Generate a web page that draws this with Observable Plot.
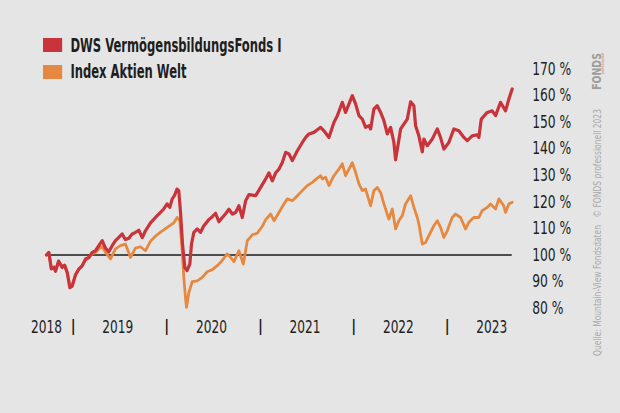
<!DOCTYPE html>
<html><head><meta charset="utf-8">
<script src="https://cdn.jsdelivr.net/npm/d3@7"></script>
<script src="https://cdn.jsdelivr.net/npm/@observablehq/plot@0.6"></script>
<style>
html,body{margin:0;padding:0;background:#e5e5e5;}
#chart{position:relative;width:620px;height:413px;overflow:hidden;background:#e5e5e5;}
#legend{position:absolute;left:43px;top:32px;transform:scaleX(0.66);transform-origin:0 0;}
.lg-swatch{height:26.5px;padding-bottom:0 !important;}
.lg-swatch > svg{margin-right:12.5px !important;}
.lg-swatch-label{overflow:visible !important;}
#caption{position:absolute;left:590px;top:356px;transform-origin:0 0;transform:rotate(-90deg) scaleX(0.8);white-space:nowrap;
  font-family:"DejaVu Sans Condensed","DejaVu Sans",sans-serif;font-size:10.5px;color:#a8a8a8;line-height:1;}
#caption b{position:relative;color:#9c9c9c;font-size:13px;margin-left:24px;}
#caption i{position:absolute;right:0;top:12px;font-style:normal;font-size:4px;color:#e0a27a;}
</style></head><body><div id="chart"></div>
<script>
const FONT = '"DejaVu Sans Condensed","DejaVu Sans",sans-serif';
const seriesNames = ["DWS VermögensbildungsFonds I", "Index Aktien Welt"];
const seriesColors = ["#c9333a", "#e6883f"];

// decimal years and values (%)
const dwsYear = [2018.714,2018.739,2018.765,2018.793,2018.811,2018.843,2018.882,2018.907,2018.936,2018.964,2018.989,2019.025,2019.060,2019.096,2019.132,2019.167,2019.203,2019.239,2019.274,2019.310,2019.345,2019.381,2019.417,2019.452,2019.488,2019.524,2019.559,2019.595,2019.631,2019.666,2019.702,2019.738,2019.773,2019.827,2019.880,2019.934,2019.969,2020.005,2020.033,2020.059,2020.083,2020.110,2020.129,2020.148,2020.169,2020.194,2020.217,2020.247,2020.265,2020.290,2020.326,2020.361,2020.397,2020.450,2020.487,2020.522,2020.557,2020.594,2020.629,2020.664,2020.701,2020.736,2020.771,2020.807,2020.843,2020.878,2020.914,2020.950,2021.003,2021.057,2021.092,2021.128,2021.164,2021.199,2021.235,2021.271,2021.306,2021.342,2021.396,2021.449,2021.485,2021.520,2021.573,2021.610,2021.645,2021.680,2021.734,2021.787,2021.824,2021.877,2021.912,2021.948,2021.984,2022.019,2022.055,2022.091,2022.126,2022.162,2022.180,2022.215,2022.251,2022.287,2022.322,2022.358,2022.394,2022.429,2022.447,2022.472,2022.501,2022.536,2022.572,2022.608,2022.643,2022.661,2022.696,2022.733,2022.750,2022.786,2022.840,2022.893,2022.928,2022.964,2023.017,2023.071,2023.124,2023.178,2023.214,2023.267,2023.321,2023.338,2023.364,2023.428,2023.481,2023.517,2023.570,2023.624,2023.659,2023.695];
const dwsValue = [100,101.0,94.8,95.3,93.9,97.7,95.3,96.2,93.3,87.7,88.3,92.6,94.7,96.0,98.5,99.1,101.0,101.6,103.5,105.4,102.6,101.2,103.5,105.4,106.6,107.9,105.8,106.3,107.9,108.5,109.3,106.5,109.1,112.1,114.1,116.0,117.3,119.2,117.9,121.1,122.3,124.8,124.2,115.9,104.2,95.3,94.1,96.6,104.1,108.5,109.8,108.5,111.0,113.3,114.4,115.7,112.5,114.1,115.5,117.2,115.4,116.0,118.5,114.1,120.4,122.7,122.5,122.3,125.4,128.6,130.9,127.9,130.9,132.3,134.8,138.6,138.0,135.5,139.2,142.3,144.2,145.5,146.1,147.1,148.0,146.7,144.2,149.8,152.4,157.4,153.6,156.8,159.9,156.8,152.4,151.1,148.0,148.6,147.4,154.9,156.1,153.6,150.5,145.5,148.0,142.3,135.8,141.1,147.4,149.2,151.1,157.6,156.1,148.6,144.8,138.8,143.6,141.1,143.6,147.4,144.2,139.8,142.3,147.4,146.7,144.2,143.0,144.8,145.2,144.2,151.1,153.6,154.2,152.4,157.4,154.2,158.6,162.4];

const idxYear = [2018.714,2018.739,2018.765,2018.793,2018.811,2018.843,2018.882,2018.907,2018.936,2018.964,2018.989,2019.025,2019.060,2019.096,2019.132,2019.167,2019.203,2019.239,2019.274,2019.310,2019.345,2019.399,2019.452,2019.506,2019.559,2019.613,2019.666,2019.720,2019.773,2019.827,2019.880,2019.934,2019.987,2020.041,2020.076,2020.112,2020.140,2020.166,2020.183,2020.201,2020.212,2020.236,2020.273,2020.326,2020.380,2020.433,2020.487,2020.540,2020.575,2020.647,2020.682,2020.718,2020.771,2020.818,2020.861,2020.914,2020.968,2021.021,2021.057,2021.110,2021.146,2021.199,2021.252,2021.289,2021.342,2021.396,2021.449,2021.503,2021.556,2021.610,2021.645,2021.663,2021.698,2021.734,2021.787,2021.841,2021.877,2021.912,2021.948,2021.984,2022.019,2022.055,2022.091,2022.126,2022.180,2022.215,2022.251,2022.287,2022.322,2022.375,2022.412,2022.447,2022.482,2022.519,2022.554,2022.608,2022.643,2022.679,2022.696,2022.733,2022.768,2022.803,2022.857,2022.893,2022.928,2022.964,2023.000,2023.053,2023.089,2023.142,2023.196,2023.231,2023.284,2023.338,2023.374,2023.428,2023.463,2023.517,2023.552,2023.605,2023.624,2023.659,2023.695];
const idxValue = [100,100.9,95.2,95.6,94.3,97.7,95.6,96.2,93.7,88.3,88.6,92.8,94.7,95.8,98.2,98.8,100.5,100.9,102.3,103.1,101.0,98.5,102.3,103.5,104.1,99.1,102.6,103.1,101.6,105.2,107.1,108.6,109.9,111.2,112.1,114.1,112.9,101.6,91.6,83.9,80.3,85.8,90.0,90.3,91.6,93.7,94.5,96.0,97.2,100.4,99.1,97.5,101.6,96.6,105.4,107.6,108.2,110.8,113.3,115.4,112.9,116.0,119.2,121.1,120.4,122.3,124.2,126.1,127.3,128.9,129.8,128.6,129.2,126.1,129.8,132.3,134.3,129.8,132.3,134.7,131.1,126.7,124.2,124.8,118.5,124.2,125.4,123.5,119.2,113.5,117.3,109.8,112.9,114.8,119.2,122.3,117.9,114.1,111.7,104.1,104.7,107.3,111.0,112.9,110.4,106.6,109.1,114.1,115.4,114.1,109.8,112.3,114.1,114.1,116.7,117.9,119.2,117.3,121.1,118.5,116.0,119.2,119.8];

const yTicks = [80,90,100,110,120,130,140,150,160,170];
const yearLabels = [2018,2019,2020,2021,2022,2023];
const yearSeparators = [2019,2020,2021,2022,2023];
const baseline = 100;
const caption = "Quelle: Mountain-View Fondsdaten\u2003\u00A9 FONDS professionell 2023";
const logoText = "FONDS";
const logoSub = "professionell";

function toDate(y){
  const yr = Math.floor(y);
  const a = Date.UTC(yr,0,1), b = Date.UTC(yr+1,0,1);
  return new Date(a + (y-yr)*(b-a));
}
const dws = dwsYear.map((y,i)=>({date:toDate(y), value:dwsValue[i]}));
const idx = idxYear.map((y,i)=>({date:toDate(y), value:idxValue[i]}));
const start = dws[0].date, end = dws[dws.length-1].date;
const labelDates = yearLabels.map((y,i)=> i===0 ? start : new Date(Date.UTC(y,5,24)));
const sepDates = yearSeparators.map(y=>new Date(Date.UTC(y,0,1)));

const plot = Plot.plot({
  width: 620, height: 413,
  marginLeft: 46, marginRight: 108.3, marginTop: 68.3, marginBottom: 105.3,
  style: {background: "transparent", fontFamily: FONT, color: "#1e1e1e", overflow: "visible"},
  x: {type: "utc", domain: [start, end], label: null},
  y: {domain: [80, 170], label: null},
  marks: [
    Plot.axisY(yTicks, {anchor: "right", tickSize: 0, tickPadding: 20, tickFormat: d => `${d} %`, fontSize: 18, label: null}),
    Plot.axisX(sepDates, {anchor: "bottom", tickSize: 0, tickPadding: 12.3, tickFormat: () => "|", fontSize: 15, fontWeight: "bold", label: null}),
    Plot.axisX(labelDates, {anchor: "bottom", tickSize: 0, tickPadding: 12, tickFormat: d => String(d.getUTCFullYear()), fontSize: 18, label: null}),
    Plot.ruleY([baseline], {stroke: "#1a1a1a", strokeWidth: 1.5}),
    Plot.line(idx, {x: "date", y: "value", stroke: seriesColors[1], strokeWidth: 2.8, strokeLinejoin: "round"}),
    Plot.line(dws, {x: "date", y: "value", stroke: seriesColors[0], strokeWidth: 3.2, strokeLinejoin: "round"})
  ]
});
const chart = document.getElementById("chart");
chart.appendChild(plot);

// condense axis label glyphs (the reference uses a narrow typeface)
plot.querySelectorAll("text").forEach(t => {
  if (t.textContent === "|") return;
  const k = /%/.test(t.textContent) ? 0.76 : 0.75;
  const L = t.getComputedTextLength();
  t.setAttribute("textLength", (L * k).toFixed(2));
  t.setAttribute("lengthAdjust", "spacingAndGlyphs");
});

const legend = Plot.legend({
  color: {domain: seriesNames, range: seriesColors},
  legend: "swatches", swatchWidth: 29, swatchHeight: 14, columns: 1, className: "lg",
  style: {fontFamily: FONT, fontSize: "19.5px", fontWeight: "bold", color: "#1e1e1e", background: "transparent"}
});
legend.id = "legend";
chart.appendChild(legend);

const cap = document.createElement("div");
cap.id = "caption";
cap.textContent = caption;
const logo = document.createElement("b");
logo.textContent = logoText;
const sub = document.createElement("i");
sub.textContent = logoSub;
logo.appendChild(sub);
cap.appendChild(logo);
chart.appendChild(cap);
</script>
</body></html>
